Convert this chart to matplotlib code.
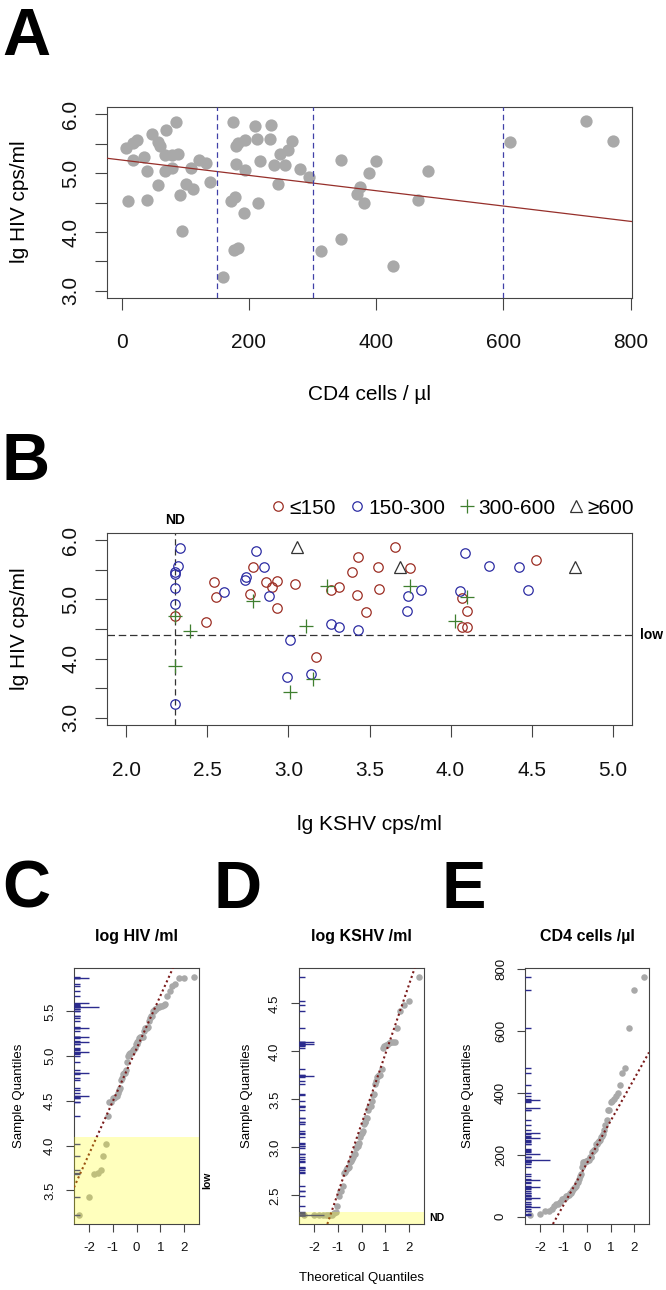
import numpy as np
import matplotlib
matplotlib.use("Agg")
import matplotlib.pyplot as plt
from matplotlib.lines import Line2D
from statistics import NormalDist

plt.rcParams['font.family'] = ['Liberation Sans', 'DejaVu Sans']

# ---- panel A: CD4 count vs HIV load (same patients feed panels C and E)
cd4 = [7.3, 17.8, 24.1, 17.8, 34.6, 39.9, 47.8, 57.2, 59.8, 69.3, 84.5, 67.7, 78.2, 88.7,
       67.7, 78.2, 57.2, 10.0, 39.9, 91.3, 100.8, 112.3, 95.0, 108.2, 121.8, 132.3, 138.6,
       159.6, 175.3, 179.6, 183.2, 193.7, 209.5, 212.1, 234.2, 233.6, 179.6, 193.7, 217.3,
       248.9, 261.9, 267.3, 239.9, 256.7, 280.3, 295.0, 245.2, 171.7, 178.0, 214.7, 192.6,
       176.9, 183.2, 344.9, 399.0, 389.5, 373.8, 370.6, 380.1, 312.9, 344.9, 426.3, 481.0,
       465.1, 610.0, 730.3, 771.7]
hiv = [5.43, 5.51, 5.56, 5.22, 5.28, 5.04, 5.67, 5.53, 5.45, 5.73, 5.87, 5.31, 5.31, 5.32,
       5.03, 5.08, 4.80, 4.53, 4.54, 4.62, 4.81, 4.73, 4.02, 5.09, 5.22, 5.17, 4.85,
       3.23, 5.87, 5.45, 5.51, 5.56, 5.79, 5.57, 5.81, 5.58, 5.16, 5.05, 5.20,
       5.33, 5.39, 5.55, 5.14, 5.14, 5.07, 4.94, 4.81, 4.53, 4.59, 4.49, 4.33,
       3.69, 3.73, 5.22, 5.21, 5.00, 4.76, 4.64, 4.49, 3.68, 3.88, 3.43, 5.04,
       4.55, 5.53, 5.88, 5.55]
fit_intercept = 5.22
fit_slope = -0.0013
cd4_cuts = [150, 300, 600]

# ---- panel B: KSHV vs HIV by CD4 group
red_kshv = [2.30, 2.54, 2.55, 2.49, 2.78, 2.76, 2.86, 2.90, 2.93, 2.93, 3.04, 3.26, 3.31, 3.17,
            3.39, 3.43, 3.55, 3.42, 3.56, 3.48, 3.66, 3.75, 4.07, 4.10, 4.07, 4.10, 4.53]
red_hiv = [4.72, 5.30, 5.04, 4.61, 5.55, 5.09, 5.30, 5.21, 5.31, 4.85, 5.26, 5.15, 5.21, 4.02,
           5.47, 5.72, 5.54, 5.07, 5.18, 4.79, 5.88, 5.53, 5.02, 4.80, 4.53, 4.54, 5.66]
blue_kshv = [2.33, 2.32, 2.30, 2.30, 2.30, 2.30, 2.30, 2.80, 2.85, 2.74, 2.73, 2.60, 2.88, 3.26,
             3.31, 3.43, 3.01, 2.99, 3.14, 3.74, 3.82, 3.73, 4.09, 4.06, 4.24, 4.42, 4.48]
blue_hiv = [5.87, 5.57, 5.46, 5.42, 5.20, 4.92, 3.23, 5.81, 5.54, 5.37, 5.32, 5.12, 5.05, 4.59,
            4.53, 4.48, 4.31, 3.69, 3.74, 5.06, 5.16, 4.81, 5.78, 5.14, 5.57, 5.55, 5.15]
green_kshv = [2.30, 2.30, 2.39, 2.78, 3.11, 3.01, 3.15, 3.24, 3.75, 4.10, 4.03]
green_hiv = [4.72, 3.87, 4.46, 4.97, 4.55, 3.44, 3.66, 5.22, 5.23, 5.04, 4.63]
tri_kshv = [3.05, 3.69, 4.77]
tri_hiv = [5.89, 5.54, 5.55]
group_labels = ['\u2264150', '150-300', '300-600', '\u2265600']
kshv_nd = 2.3
hiv_low = 4.4

# ---- rug ticks that stand out (tied values)
c_rug_mid = [5.87, 5.59, 5.32, 5.21, 5.16, 5.05, 4.81, 4.55]
c_rug_long = [5.55]
d_rug_mid = [4.10, 4.08, 3.74]
d_rug_long = [2.30]
e_rug_mid = [378, 351, 271, 255, 201, 120, 95, 60, 30]
e_rug_long = [183]
c_low_top = 4.1
d_nd_top = 2.33

W, H = 666, 1290
fig = plt.figure(figsize=(W / 100, H / 100), dpi=100)
GREY = '#a9a9a9'
FRAME = '#444444'
RUG = '#2b2b8e'


def add_ax(l, t, r, b):
    return fig.add_axes([l / W, 1 - b / H, (r - l) / W, (b - t) / H])


def ftext(x, y, s, **kw):
    fig.text(x / W, 1 - y / H, s, **kw)


def rlim(v):
    lo, hi = min(v), max(v)
    d = (hi - lo) * 0.04
    return lo - d, hi + d


def style(ax, xt, xl, yt, yl, fs, tl, pad_x, pad_y):
    ax.set_xticks(xt, xl)
    ax.set_yticks(yt, yl)
    for s in ax.spines.values():
        s.set_color(FRAME)
        s.set_linewidth(0.8)
    ax.tick_params(direction='out', length=tl, width=0.8, color=FRAME, labelsize=fs,
                   labelcolor='#111111')
    ax.tick_params(axis='x', pad=pad_x)
    ax.tick_params(axis='y', pad=pad_y)
    for t in ax.get_xticklabels():
        t.set_va('center')
    for t in ax.get_yticklabels():
        t.set_rotation(90)
        t.set_va('center')
        t.set_ha('center')


nd = NormalDist()


def qq(vals):
    y = np.sort(np.asarray(vals, float))
    n = len(y)
    a = 3 / 8 if n <= 10 else 0.5
    p = (np.arange(1, n + 1) - a) / (n + 1 - 2 * a)
    x = np.array([nd.inv_cdf(pi) for pi in p])
    return x, y


def qq_panel(ax, vals, yt, yl, mid, long):
    x, y = qq(vals)
    ax.scatter(x, y, s=22, color=GREY, linewidths=0, zorder=2)
    q1, q3 = np.percentile(vals, [25, 75])
    x1, x3 = nd.inv_cdf(0.25), nd.inv_cdf(0.75)
    ax.axline((x1, q1), (x3, q3), color='#7a1a1a', lw=1.5, ls=(0, (1, 1.4)), zorder=4)
    tr = ax.get_yaxis_transform()
    ax.hlines(vals, 0, 0.045, transform=tr, color=RUG, lw=1.0, zorder=3)
    ax.hlines(mid, 0, 0.12, transform=tr, color=RUG, lw=1.0, zorder=3)
    ax.hlines(long, 0, 0.2, transform=tr, color=RUG, lw=1.0, zorder=3)
    ax.set_xlim(rlim(x))
    ax.set_ylim(rlim(vals))
    style(ax, [-2, -1, 0, 1, 2], ['-2', '-1', '0', '1', '2'], yt, yl, 9.5, 5.5, 11.8, 11.8)


# ---------------- panel A
axA = add_ax(107, 107, 632, 298)
axA.scatter(cd4, hiv, s=78, color=GREY, linewidths=0, zorder=2)
axA.axline((0, fit_intercept), slope=fit_slope, color='#962f2a', lw=0.9, zorder=3)
for c in cd4_cuts:
    axA.axvline(c, color='#4040a8', lw=0.9, dashes=(4.5, 3), zorder=3)
axA.set_xlim(rlim(cd4))
axA.set_ylim(2.88, 6.12)
style(axA, [0, 200, 400, 600, 800], ['0', '200', '400', '600', '800'],
      [3, 3.5, 4, 4.5, 5, 5.5, 6], ['3.0', '', '4.0', '', '5.0', '', '6.0'],
      15, 8.6, 23.8, 17.6)
ftext(369, 394, 'CD4 cells / \u00b5l', fontsize=15, ha='center', va='center')
ftext(20, 202, 'lg HIV cps/ml', fontsize=15, rotation=90, ha='center', va='center')

# ---------------- panel B
axB = add_ax(107, 533, 632, 725)
axB.axvline(kshv_nd, color='#333333', lw=0.9, dashes=(5, 3), zorder=1)
axB.axhline(hiv_low, color='#333333', lw=0.9, dashes=(6, 3), zorder=1)
mk = dict(ls='none', mfc='none', mew=0.9)
axB.plot(red_kshv, red_hiv, marker='o', ms=6.8, mec='#9c2e24', **mk)
axB.plot(blue_kshv, blue_hiv, marker='o', ms=6.8, mec='#2d2da3', **mk)
axB.plot(green_kshv, green_hiv, marker='+', ms=10, mec='#3f7f2f', **mk)
axB.plot(tri_kshv, tri_hiv, marker='^', ms=8.5, mec='#333333', **mk)
axB.set_xlim(rlim([2, 5]))
axB.set_ylim(2.88, 6.12)
style(axB, [2, 2.5, 3, 3.5, 4, 4.5, 5], ['2.0', '2.5', '3.0', '3.5', '4.0', '4.5', '5.0'],
      [3, 3.5, 4, 4.5, 5, 5.5, 6], ['3.0', '', '4.0', '', '5.0', '', '6.0'],
      15, 8.6, 23.8, 17.6)
axB.annotate('ND', xy=(kshv_nd, 1), xycoords=('data', 'axes fraction'), xytext=(0, 9.5),
             textcoords='offset points', ha='center', va='center', fontsize=10, fontweight='bold')
axB.annotate('low', xy=(1, hiv_low), xycoords=('axes fraction', 'data'), xytext=(6, 0),
             textcoords='offset points', ha='left', va='center', fontsize=10, fontweight='bold')
handles = [Line2D([], [], marker='o', ms=6.8, mec='#9c2e24', **mk),
           Line2D([], [], marker='o', ms=6.8, mec='#2d2da3', **mk),
           Line2D([], [], marker='+', ms=10, mec='#3f7f2f', **mk),
           Line2D([], [], marker='^', ms=8.5, mec='#333333', **mk)]
axB.legend(handles, group_labels, ncol=4, loc='center right',
           bbox_to_anchor=(634 / W, 1 - 508 / H), bbox_transform=fig.transFigure,
           frameon=False, fontsize=15, handlelength=0.5, handletextpad=0.3,
           columnspacing=0.75, borderpad=0, borderaxespad=0)
ftext(369, 825, 'lg KSHV cps/ml', fontsize=15, ha='center', va='center')
ftext(20, 629, 'lg HIV cps/ml', fontsize=15, rotation=90, ha='center', va='center')

# ---------------- panels C, D, E
axC = add_ax(74, 968, 199, 1224)
qq_panel(axC, hiv, [3.5, 4, 4.5, 5, 5.5], ['3.5', '4.0', '4.5', '5.0', '5.5'], c_rug_mid, c_rug_long)
ylo = axC.get_ylim()[0]
axC.axhspan(ylo, c_low_top, color='#ffff00', alpha=0.26, lw=0, zorder=5)
axC.text(1.067, (ylo + c_low_top) / 2, 'low', transform=axC.get_yaxis_transform(), rotation=90,
         ha='center', va='center', fontsize=7.5, fontweight='bold')

kshv_all = red_kshv + blue_kshv + green_kshv + tri_kshv
axD = add_ax(299, 968, 424, 1224)
qq_panel(axD, kshv_all, [2.5, 3, 3.5, 4, 4.5], ['2.5', '3.0', '3.5', '4.0', '4.5'], d_rug_mid, d_rug_long)
ylo = axD.get_ylim()[0]
axD.axhspan(ylo, d_nd_top, color='#ffff00', alpha=0.26, lw=0, zorder=5)
axD.text(1.04, (ylo + d_nd_top) / 2, 'ND', transform=axD.get_yaxis_transform(),
         ha='left', va='center', fontsize=7.5, fontweight='bold')

axE = add_ax(525, 968, 649, 1224)
qq_panel(axE, cd4, [0, 200, 400, 600, 800], ['0', '200', '400', '600', '800'], e_rug_mid, e_rug_long)

for x, s in [(136.5, 'log HIV /ml'), (361.5, 'log KSHV /ml'), (587, 'CD4 cells /\u00b5l')]:
    ftext(x, 937, s, fontsize=11.5, fontweight='bold', ha='center', va='center')
for x in [19, 247, 468]:
    ftext(x, 1096, 'Sample Quantiles', fontsize=9.5, rotation=90, ha='center', va='center')
ftext(361.5, 1278, 'Theoretical Quantiles', fontsize=9.5, ha='center', va='center')

# panel letters
for x, y, s in [(2, 55, 'A'), (2, 480, 'B'), (2, 908, 'C'), (213, 908, 'D'), (441, 908, 'E')]:
    ftext(x, y, s, fontsize=48, fontweight='bold', ha='left', va='baseline')

fig.savefig('out.png', dpi=100, facecolor='white')
